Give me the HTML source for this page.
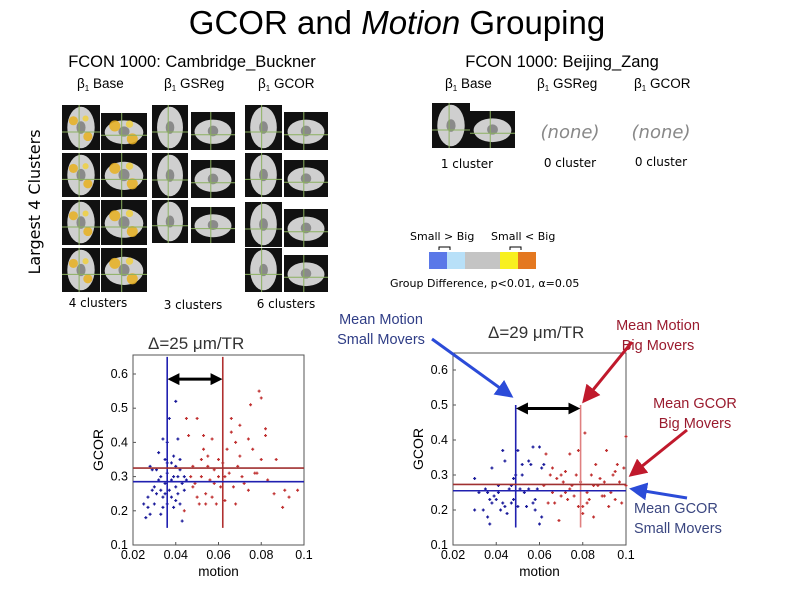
<!DOCTYPE html>
<html><head><meta charset="utf-8"><style>
body{margin:0;background:#fff;}
svg{display:block;font-family:"Liberation Sans",sans-serif;}
</style></head><body>
<svg id="s" width="793" height="595" viewBox="0 0 793 595">
<defs>
<marker id="ab" markerWidth="6" markerHeight="6" refX="5" refY="3" orient="auto" markerUnits="strokeWidth"><path d="M0,0L6,3L0,6z" fill="#2b4bd8"/></marker>
<marker id="ar" markerWidth="6" markerHeight="6" refX="5" refY="3" orient="auto" markerUnits="strokeWidth"><path d="M0,0L6,3L0,6z" fill="#c0192c"/></marker>
<marker id="ak" markerWidth="4" markerHeight="4" refX="3" refY="2" orient="auto-start-reverse" markerUnits="strokeWidth"><path d="M0,0L4,2L0,4z" fill="#000"/></marker>
</defs>
<g id="p1"></g>
<g id="p2"></g>
<text x="397" y="34" font-size="33" text-anchor="middle">GCOR and <tspan font-style="italic">Motion</tspan> Grouping</text>
<text x="192" y="67" font-size="16.5" text-anchor="middle">FCON 1000: Cambridge_Buckner</text>
<text x="562" y="67" font-size="16.5" text-anchor="middle">FCON 1000: Beijing_Zang</text>
<g font-size="13.5">
<text x="77" y="88">β<tspan font-size="8" dy="3">1</tspan><tspan dy="-3"> Base</tspan></text>
<text x="164" y="88">β<tspan font-size="8" dy="3">1</tspan><tspan dy="-3"> GSReg</tspan></text>
<text x="258" y="88">β<tspan font-size="8" dy="3">1</tspan><tspan dy="-3"> GCOR</tspan></text>
<text x="445" y="88">β<tspan font-size="8" dy="3">1</tspan><tspan dy="-3"> Base</tspan></text>
<text x="537" y="88">β<tspan font-size="8" dy="3">1</tspan><tspan dy="-3"> GSReg</tspan></text>
<text x="634" y="88">β<tspan font-size="8" dy="3">1</tspan><tspan dy="-3"> GCOR</tspan></text>
</g>
<text transform="translate(40,202) rotate(-90)" font-size="16" text-anchor="middle" font-family="DejaVu Sans,sans-serif">Largest 4 Clusters</text>
<g id="brains"></g>
<g font-size="12" font-family="DejaVu Sans,sans-serif">
<text x="98" y="307" text-anchor="middle">4 clusters</text>
<text x="193" y="309" text-anchor="middle">3 clusters</text>
<text x="286" y="308" text-anchor="middle">6 clusters</text>
<text x="467" y="168" text-anchor="middle">1 cluster</text>
<text x="570" y="167" text-anchor="middle">0 cluster</text>
<text x="661" y="166" text-anchor="middle">0 cluster</text>
</g>
<g font-size="18" font-style="italic" fill="#888" font-family="DejaVu Sans,sans-serif">
<text x="570" y="138" text-anchor="middle">(none)</text>
<text x="661" y="138" text-anchor="middle">(none)</text>
</g>
<g font-family="DejaVu Sans,sans-serif" font-size="11">
<text x="410" y="240">Small &gt; Big</text>
<text x="491" y="240">Small &lt; Big</text>
<rect x="429" y="252" width="18" height="17" fill="#5a78e8"/>
<rect x="447" y="252" width="18" height="17" fill="#b8e0f8"/>
<rect x="465" y="252" width="35" height="17" fill="#c4c4c4"/>
<rect x="500" y="252" width="18" height="17" fill="#f8f020"/>
<rect x="518" y="252" width="18" height="17" fill="#e47820"/>
<path d="M439,250v-3h11v3M510,250v-3h11v3" stroke="#000" fill="none"/>
<text x="390" y="287">Group Difference, p&lt;0.01, α=0.05</text>
</g>
<text x="148" y="349" font-size="17" fill="#333">Δ=25 μm/TR</text>
<text x="488" y="338" font-size="17" fill="#333">Δ=29 μm/TR</text>
<g font-size="14.5">
<text x="381" y="324" fill="#2f3d86" text-anchor="middle">Mean Motion</text>
<text x="381" y="344" fill="#2f3d86" text-anchor="middle">Small Movers</text>
<text x="658" y="330" fill="#9a1b2e" text-anchor="middle">Mean Motion</text>
<text x="658" y="350" fill="#9a1b2e" text-anchor="middle">Big Movers</text>
<text x="695" y="408" fill="#9a1b2e" text-anchor="middle">Mean GCOR</text>
<text x="695" y="428" fill="#9a1b2e" text-anchor="middle">Big Movers</text>
<text x="634" y="513" fill="#3a4680">Mean GCOR</text>
<text x="634" y="533" fill="#3a4680">Small Movers</text>
<line x1="432" y1="339" x2="511" y2="396" stroke="#2b4bd8" stroke-width="3" marker-end="url(#ab)"/>
<line x1="632" y1="342" x2="584" y2="401" stroke="#c0192c" stroke-width="3" marker-end="url(#ar)"/>
<line x1="687" y1="430" x2="631" y2="475" stroke="#c0192c" stroke-width="3" marker-end="url(#ar)"/>
<line x1="687" y1="498" x2="632" y2="489" stroke="#2b4bd8" stroke-width="3" marker-end="url(#ab)"/>
</g>
</svg>
<script>
const NS="http://www.w3.org/2000/svg";
function mk(p,t,a){const e=document.createElementNS(NS,t);for(const k in a)e.setAttribute(k,a[k]);p.appendChild(e);return e;}
const B=document.getElementById('brains');
function tile(x,y,w,h,axial,blobs){
  const g=mk(B,'g',{});
  
  
  mk(g,'rect',{x:x,y:y,width:w,height:h,fill:'#111'});
  if(axial) mk(g,'ellipse',{cx:x+w/2,cy:y+h/2,rx:w*0.36,ry:h*0.46,fill:'#cfcfcf'});
  else mk(g,'ellipse',{cx:x+w/2,cy:y+h*0.52,rx:w*0.42,ry:h*0.32,fill:'#cfcfcf'});
  mk(g,'ellipse',{cx:x+w/2,cy:y+h/2,rx:w*0.12,ry:h*0.14,fill:'#8a8a8a'});
  if(blobs){
    mk(g,'circle',{cx:x+w*0.3,cy:y+h*0.35,r:w*0.12,fill:'#e8b020',opacity:0.85});
    mk(g,'circle',{cx:x+w*0.68,cy:y+h*0.7,r:w*0.12,fill:'#e8b020',opacity:0.85});
    mk(g,'circle',{cx:x+w*0.62,cy:y+h*0.3,r:w*0.08,fill:'#f0d040',opacity:0.85});
  }
  mk(g,'line',{x1:x+w*0.45,y1:y,x2:x+w*0.45,y2:y+h,stroke:'#8bb060','stroke-width':1});
  mk(g,'line',{x1:x,y1:y+h*0.6,x2:x+w,y2:y+h*0.6,stroke:'#8bb060','stroke-width':1});
}
[[105,150],[153,197],[200,245],[248,292]].forEach((r,i)=>{tile(62,r[0],38,r[1]-r[0],true,true);tile(101,r[0]+(i==0?8:0),46,r[1]-r[0]-(i==0?8:0),false,true);});
[[105,150],[153,198],[200,243]].forEach(r=>{tile(152,r[0],36,r[1]-r[0],true,false);tile(191,r[0]+7,44,r[1]-r[0]-7,false,false);});
[[105,150],[153,197],[202,247],[248,292]].forEach(r=>{tile(245,r[0],37,r[1]-r[0],true,false);tile(284,r[0]+7,44,r[1]-r[0]-7,false,false);});
tile(432,103,38,45,true,false);tile(470,111,45,37,false,false);

const xTicks=[0.02,0.04,0.06,0.08,0.1];
const xTickLabels=['0.02','0.04','0.06','0.08','0.1'];
const yTicks=[0.1,0.2,0.3,0.4,0.5,0.6];
const yTickLabels=['0.1','0.2','0.3','0.4','0.5','0.6'];
const smallMotion1=[0.025,0.026,0.027,0.028,0.028,0.029,0.03,0.03,0.031,0.032,0.033,0.033,0.034,0.034,0.035,0.035,0.036,0.036,0.036,0.037,0.037,0.038,0.038,0.039,0.039,0.04,0.04,0.04,0.041,0.041,0.041,0.042,0.042,0.043,0.043,0.044,0.034,0.032,0.029,0.027,0.038,0.042,0.044,0.031,0.036,0.04,0.045,0.035,0.039,0.033];
const smallGcor1=[0.22,0.18,0.24,0.19,0.33,0.32,0.27,0.22,0.25,0.37,0.26,0.3,0.41,0.24,0.35,0.28,0.4,0.31,0.22,0.47,0.26,0.29,0.34,0.21,0.3,0.52,0.33,0.27,0.25,0.41,0.3,0.35,0.22,0.17,0.28,0.26,0.21,0.29,0.26,0.21,0.24,0.32,0.3,0.32,0.34,0.23,0.29,0.25,0.36,0.19];
const bigMotion1=[0.044,0.045,0.046,0.047,0.048,0.049,0.05,0.05,0.051,0.052,0.052,0.053,0.053,0.054,0.054,0.055,0.056,0.057,0.057,0.058,0.059,0.06,0.06,0.061,0.062,0.063,0.064,0.065,0.066,0.066,0.067,0.068,0.068,0.069,0.07,0.071,0.072,0.074,0.074,0.075,0.076,0.077,0.079,0.08,0.08,0.082,0.082,0.083,0.086,0.087,0.09,0.091,0.093,0.097,0.058,0.048,0.055,0.063,0.07,0.078];
const bigGcor1=[0.2,0.47,0.42,0.3,0.33,0.28,0.47,0.24,0.22,0.35,0.3,0.42,0.38,0.25,0.22,0.33,0.29,0.41,0.24,0.32,0.22,0.35,0.3,0.27,0.34,0.23,0.38,0.31,0.47,0.43,0.27,0.22,0.4,0.33,0.45,0.3,0.28,0.41,0.26,0.51,0.38,0.31,0.55,0.53,0.35,0.44,0.42,0.29,0.25,0.35,0.21,0.26,0.24,0.26,0.28,0.27,0.36,0.3,0.36,0.31];
const means1=[0.036,0.285,0.062,0.325];
const smallMotion2=[0.03,0.03,0.032,0.034,0.035,0.036,0.037,0.037,0.038,0.039,0.04,0.041,0.042,0.043,0.044,0.045,0.046,0.047,0.048,0.048,0.049,0.05,0.05,0.051,0.052,0.053,0.054,0.055,0.056,0.057,0.057,0.058,0.059,0.06,0.06,0.061,0.061,0.062,0.038,0.041,0.044,0.047,0.052,0.055,0.058,0.036,0.043];
const smallGcor2=[0.29,0.2,0.25,0.2,0.26,0.18,0.16,0.23,0.32,0.24,0.23,0.27,0.2,0.37,0.34,0.19,0.26,0.22,0.29,0.23,0.3,0.21,0.37,0.26,0.33,0.25,0.21,0.34,0.33,0.38,0.22,0.2,0.26,0.38,0.16,0.32,0.18,0.33,0.22,0.25,0.21,0.27,0.3,0.26,0.23,0.25,0.22];
const bigMotion2=[0.062,0.063,0.064,0.065,0.066,0.067,0.068,0.069,0.07,0.071,0.072,0.073,0.074,0.075,0.076,0.077,0.078,0.078,0.079,0.08,0.081,0.082,0.083,0.084,0.085,0.086,0.087,0.088,0.089,0.09,0.091,0.092,0.093,0.094,0.095,0.096,0.097,0.098,0.099,0.1,0.07,0.074,0.08,0.085,0.09,0.066,0.072,0.082,0.095,0.1];
const bigGcor2=[0.27,0.36,0.22,0.3,0.25,0.22,0.29,0.17,0.24,0.28,0.31,0.23,0.36,0.27,0.24,0.3,0.37,0.21,0.28,0.21,0.42,0.25,0.23,0.3,0.18,0.33,0.27,0.29,0.24,0.28,0.37,0.21,0.25,0.3,0.23,0.33,0.28,0.22,0.32,0.41,0.3,0.26,0.19,0.27,0.24,0.32,0.25,0.22,0.31,0.27];
const means2=[0.049,0.255,0.079,0.273];

function plot(gid,L,R,Y1,Y6,top,sm,sg,bm,bg,means,arrowY,arrowA,arrowB,vTop,thin){
  const g=document.getElementById(gid);
  const X=v=>L+(v-0.02)/(0.08)*(R-L);
  const Y=v=>Y1+(v-0.1)/0.5*(Y6-Y1);
  const bot=Y(0.1);
  const box=mk(g,'rect',{x:L,y:top,width:R-L,height:bot-top,fill:'#fff',stroke:'#555','stroke-width':1});
  
  
  xTicks.forEach((t,i)=>{
    mk(g,'line',{x1:X(t),y1:bot,x2:X(t),y2:bot-3,stroke:'#555'});
    const tx=mk(g,'text',{x:X(t),y:bot+14,'font-size':12.5,'text-anchor':'middle'});
    
    
    tx.textContent=xTickLabels[i];
  });
  yTicks.forEach((t,i)=>{
    mk(g,'line',{x1:L,y1:Y(t),x2:L+3,y2:Y(t),stroke:'#555'});
    const tx=mk(g,'text',{x:L-5,y:Y(t)+4,'font-size':12.5,'text-anchor':'end'});
    
    
    tx.textContent=yTickLabels[i];
  });
  const xl=mk(g,'text',{x:(L+R)/2,y:bot+31,'font-size':13.5,'text-anchor':'middle'});
  
  
  xl.textContent='motion';
  const yl=mk(g,'text',{transform:`translate(${L-30},${(top+bot)/2}) rotate(-90)`,'font-size':14,'text-anchor':'middle'});
  
  
  yl.textContent='GCOR';
  function pts(ms,gs,col,name){
    ms.forEach((m,i)=>{
      const x=X(m),y=Y(gs[i]);
      const p=mk(g,'path',{d:`M${x-1.5},${y}h3M${x},${y-1.5}v3`,stroke:col,'stroke-width':1.2});
      
      
    });
  }
  pts(sm,sg,'#1a1a9a','point-small-mover');
  pts(bm,bg,'#c03030','point-big-mover');
  const lines=[
    ['line',{x1:X(means[0]),y1:Y(0.15),x2:X(means[0]),y2:Y(vTop),stroke:'#2020b0','stroke-width':1.6},'mean-motion-small'],
    ['line',{x1:X(means[2]),y1:Y(0.15),x2:X(means[2]),y2:Y(vTop),stroke:thin?'#e08080':'#b03030','stroke-width':1.6},'mean-motion-big'],
    ['line',{x1:L,y1:Y(means[1]),x2:R,y2:Y(means[1]),stroke:'#2020b0','stroke-width':1.6},'mean-gcor-small'],
    ['line',{x1:L,y1:Y(means[3]),x2:R,y2:Y(means[3]),stroke:'#a03030','stroke-width':1.6},'mean-gcor-big']];
  lines.forEach(l=>{const e=mk(g,l[0],l[1]);});
  const a=mk(g,'line',{x1:X(arrowA),y1:Y(arrowY),x2:X(arrowB),y2:Y(arrowY),stroke:'#000','stroke-width':3,'marker-start':'url(#ak)','marker-end':'url(#ak)'});
  
  
}
plot('p1',133,304,545,374,355,smallMotion1,smallGcor1,bigMotion1,bigGcor1,means1,0.585,0.0375,0.0605,0.65,false);
plot('p2',453,626,545,370,353,smallMotion2,smallGcor2,bigMotion2,bigGcor2,means2,0.49,0.0505,0.0775,0.5,true);
</script>
</body></html>
